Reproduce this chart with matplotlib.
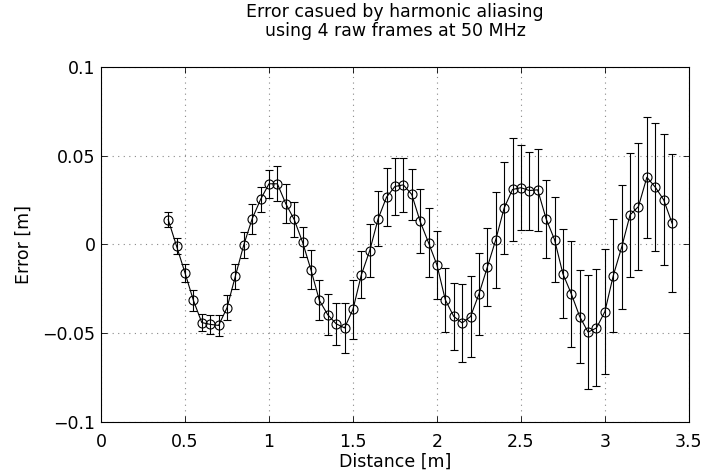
import numpy as np
import matplotlib
matplotlib.use("Agg")
import matplotlib.pyplot as plt

# ---- Daten ----
distance = [0.40, 0.45, 0.50, 0.55, 0.60, 0.65, 0.70, 0.75, 0.80, 0.85,
            0.90, 0.95, 1.00, 1.05, 1.10, 1.15, 1.20, 1.25, 1.30, 1.35,
            1.40, 1.45, 1.50, 1.55, 1.60, 1.65, 1.70, 1.75, 1.80, 1.85,
            1.90, 1.95, 2.00, 2.05, 2.10, 2.15, 2.20, 2.25, 2.30, 2.35,
            2.40, 2.45, 2.50, 2.55, 2.60, 2.65, 2.70, 2.75, 2.80, 2.85,
            2.90, 2.95, 3.00, 3.05, 3.10, 3.15, 3.20, 3.25, 3.30, 3.35,
            3.40]

error_mean = [0.0140, -0.0010, -0.0160, -0.0315, -0.0440, -0.0450, -0.0456, -0.0357, -0.0178, -0.0002,
              0.0145, 0.0254, 0.0342, 0.0342, 0.0230, 0.0141, 0.0013, -0.0143, -0.0315, -0.0396,
              -0.0447, -0.0470, -0.0366, -0.0171, -0.0034, 0.0145, 0.0267, 0.0327, 0.0336, 0.0282,
              0.0130, 0.0010, -0.0115, -0.0312, -0.0405, -0.0442, -0.0406, -0.0280, -0.0128, 0.0026,
              0.0205, 0.0310, 0.0320, 0.0304, 0.0308, 0.0145, 0.0028, -0.0165, -0.0278, -0.0406,
              -0.0494, -0.0470, -0.0378, -0.0175, -0.0015, 0.0167, 0.0214, 0.0379, 0.0323, 0.0252,
              0.0120]

error_std = [0.0044, 0.0046, 0.0050, 0.0060, 0.0050, 0.0055, 0.0060, 0.0070, 0.0070, 0.0075,
             0.0085, 0.0070, 0.0080, 0.0098, 0.0110, 0.0097, 0.0086, 0.0110, 0.0113, 0.0116,
             0.0120, 0.0140, 0.0166, 0.0133, 0.0148, 0.0154, 0.0164, 0.0160, 0.0153, 0.0146,
             0.0180, 0.0195, 0.0193, 0.0180, 0.0190, 0.0220, 0.0230, 0.0230, 0.0220, 0.0270,
             0.0260, 0.0290, 0.0240, 0.0220, 0.0230, 0.0220, 0.0240, 0.0250, 0.0300, 0.0260,
             0.0320, 0.0330, 0.0350, 0.0320, 0.0350, 0.0350, 0.0360, 0.0340, 0.0360, 0.0370,
             0.0390]

xticks = [0, 0.5, 1, 1.5, 2, 2.5, 3, 3.5]
xticklabels = ["0", "0.5", "1", "1.5", "2", "2.5", "3", "3.5"]
yticks = [-0.1, -0.05, 0, 0.05, 0.1]
yticklabels = ["\u22120.1", "\u22120.05", "0", "0.05", "0.1"]

plt.rcParams['font.family'] = ['DejaVu Sans']
fs = 12.5

fig = plt.figure(figsize=(7.04, 4.72), dpi=100)
ax = fig.add_axes([0.1435, 0.106, 0.835, 0.752])

ax.errorbar(distance, error_mean, yerr=error_std, color='black', linewidth=0.8,
            elinewidth=0.8, capsize=3, capthick=0.8, marker='o', markersize=6.5,
            markerfacecolor='none', markeredgecolor='black', markeredgewidth=0.8)

ax.set_xlim(0, 3.5)
ax.set_ylim(-0.1, 0.1)
ax.set_xticks(xticks)
ax.set_xticklabels(xticklabels)
ax.set_yticks(yticks)
ax.set_yticklabels(yticklabels)
ax.tick_params(direction='in', top=True, right=True, labelsize=fs, length=4, width=0.6)
ax.tick_params(axis='x', pad=8)
ax.tick_params(axis='y', pad=4)
ax.grid(True, linestyle=(0, (1, 4)), color='#888888', linewidth=0.8)
for s in ax.spines.values():
    s.set_linewidth(0.8)

ax.set_title("Error casued by harmonic aliasing\nusing 4 raw frames at 50 MHz",
             fontsize=fs, pad=22, linespacing=1.1)
ax.set_xlabel("Distance [m]", fontsize=fs, labelpad=1)
ax.set_ylabel("Error [m]", fontsize=fs, labelpad=7)

fig.savefig("out.png", dpi=100)
